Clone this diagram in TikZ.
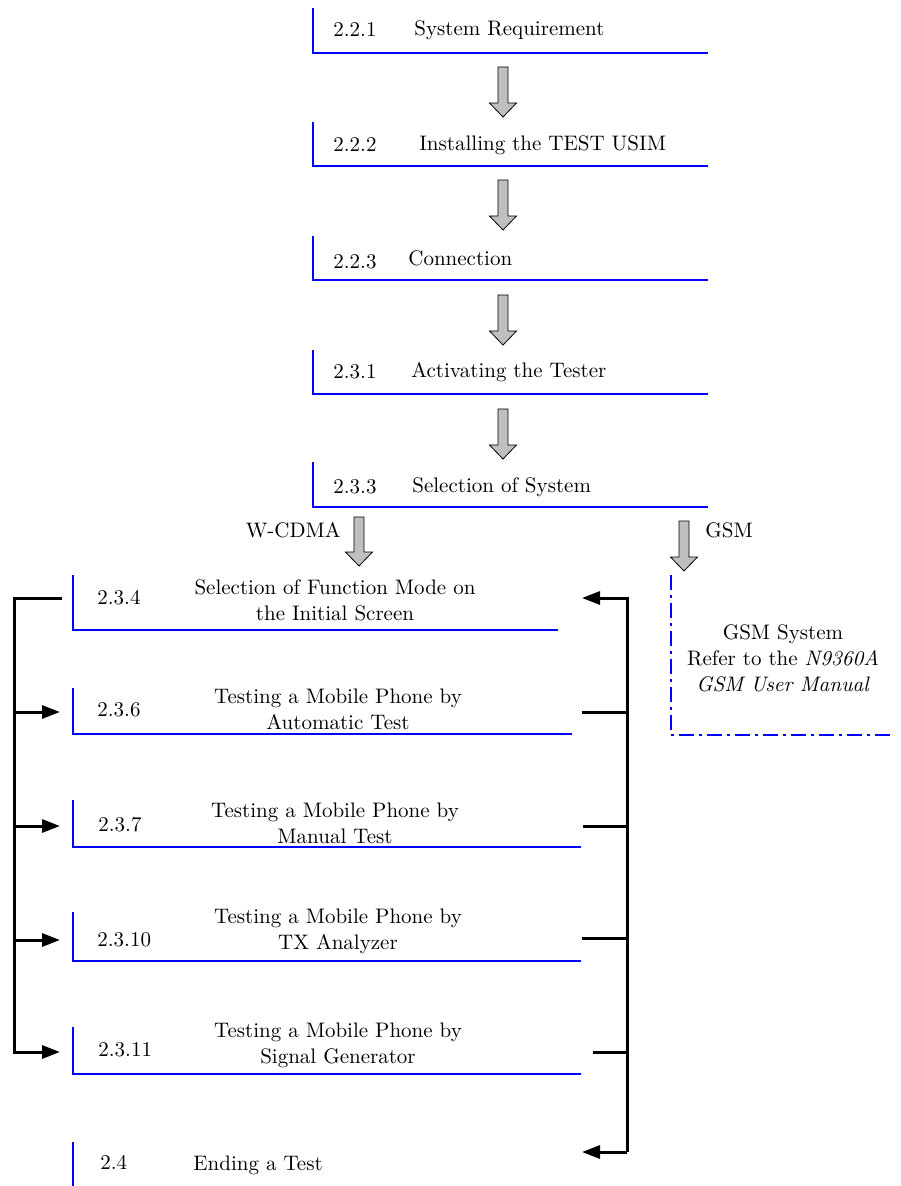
\documentclass[tikz,border=0pt]{standalone}
\usetikzlibrary{arrows.meta}
\begin{document}
\begin{tikzpicture}[x=0.5pt,y=-0.5pt,
 every node/.style={font=\fontsize{10.5}{13}\selectfont, inner sep=0pt},
 bl/.style={draw=blue, line width=0.9pt},
 conn/.style={line width=1.5pt, line join=miter},
 tip/.style={-{Triangle[length=9pt,width=6.5pt]}},
 garrow/.style={fill=black!25, draw=black, line width=0.4pt},
 dd/.style={draw=blue, line width=0.9pt, dash pattern=on 7.5pt off 2.5pt on 1.5pt off 2.5pt}]
\useasboundingbox (0,0) rectangle (900,1186);
\newcommand\garr[3]{\draw[garrow] (#1-5,#2) -- (#1+5,#2) -- (#1+5,#3-14) -- (#1+13.5,#3-14) -- (#1,#3) -- (#1-13.5,#3-14) -- (#1-5,#3-14) -- cycle;}
% top boxes
\draw[bl] (313,8) |- (708,53);
\draw[bl] (313,122) |- (708,166);
\draw[bl] (313,236) |- (708,280);
\draw[bl] (313,350) |- (708,394);
\draw[bl] (313,462) |- (708,507);
\node[anchor=west] (n221) at (333,30) {2.2.1};
\node[anchor=west] (t221) at (414,30) {System Requirement};
\node[anchor=west] (n222) at (333,145) {2.2.2};
\node[anchor=west] (t222) at (419,145) {Installing the TEST USIM};
\node[anchor=west] (n223) at (333,262) {2.2.3};
\node[anchor=west] (t223) at (408,258) {Connection};
\node[anchor=west] (n231) at (333,372) {2.3.1};
\node[anchor=west] (t231) at (411,372) {Activating the Tester};
\node[anchor=west] (n233) at (333,487) {2.3.3};
\node[anchor=west] (t233) at (412,487) {Selection of System};
% gray arrows
\garr{503}{67}{117}
\garr{503}{180}{230}
\garr{503}{295}{345}
\garr{503}{409}{459}
\garr{359}{517}{566}
\garr{684}{521}{571}
\node[anchor=east] (wcdma) at (341,530) {W-CDMA};
\node[anchor=west] (gsm) at (705,530) {GSM};
% GSM box
\draw[dd] (671,575) |- (893,735);
\node[align=center] (gsmsys) at (783,658) {GSM System\\Refer to the \textit{N9360A}\\\textit{GSM User Manual}};
% left boxes
\draw[bl] (73,575) |- (558,630);
\draw[bl] (73,688) |- (572,734);
\draw[bl] (73,800) |- (581,847);
\draw[bl] (73,912) |- (581,961);
\draw[bl] (73,1027) |- (581,1074);
\draw[bl] (73,1142) -- (73,1186);
\node[anchor=west] (n234) at (97,598) {2.3.4};
\node[align=center] (t234) at (335,600) {Selection of Function Mode on\\the Initial Screen};
\node[anchor=west] (n236) at (97,710) {2.3.6};
\node[align=center] (t236) at (338,709) {Testing a Mobile Phone by\\Automatic Test};
\node[anchor=west] (n237) at (98,825) {2.3.7};
\node[align=center] (t237) at (335,823) {Testing a Mobile Phone by\\Manual Test};
\node[anchor=west] (n2310) at (97,940) {2.3.10};
\node[align=center] (t2310) at (338,931) {Testing a Mobile Phone by\\TX Analyzer};
\node[anchor=west] (n2311) at (98,1050) {2.3.11};
\node[align=center] (t2311) at (338,1045) {Testing a Mobile Phone by\\Signal Generator};
\node[anchor=west] (n24) at (100,1162) {2.4};
\node[anchor=west] (t24) at (193,1165) {Ending a Test};
% left bracket
\coordinate (ls) at (62,598);
\coordinate (lt) at (14,598);
\coordinate (lb) at (14,1052);
\coordinate (l2) at (60,712);
\coordinate (l3) at (60,826);
\coordinate (l4) at (60,940);
\coordinate (l5) at (60,1052);
\draw[conn,tip] (ls) -- (lt) -- (lb) -- (l5);
\draw[conn,tip] (lt |- l2) -- (l2);
\draw[conn,tip] (lt |- l3) -- (l3);
\draw[conn,tip] (lt |- l4) -- (l4);
% right bracket
\coordinate (rt) at (627,598);
\coordinate (rb) at (627,1152);
\coordinate (r1) at (582,598);
\coordinate (r2) at (582,712);
\coordinate (r3) at (583,826);
\coordinate (r4) at (582,938);
\coordinate (r5) at (593,1052);
\coordinate (r6) at (582,1152);
\draw[conn,tip] (rb) -- (rt) -- (r1);
\draw[conn,tip] (rb) -- (r6);
\draw[conn] (r2) -- (rt |- r2);
\draw[conn] (r3) -- (rt |- r3);
\draw[conn] (r4) -- (rt |- r4);
\draw[conn] (r5) -- (rt |- r5);
\end{tikzpicture}
\end{document}
